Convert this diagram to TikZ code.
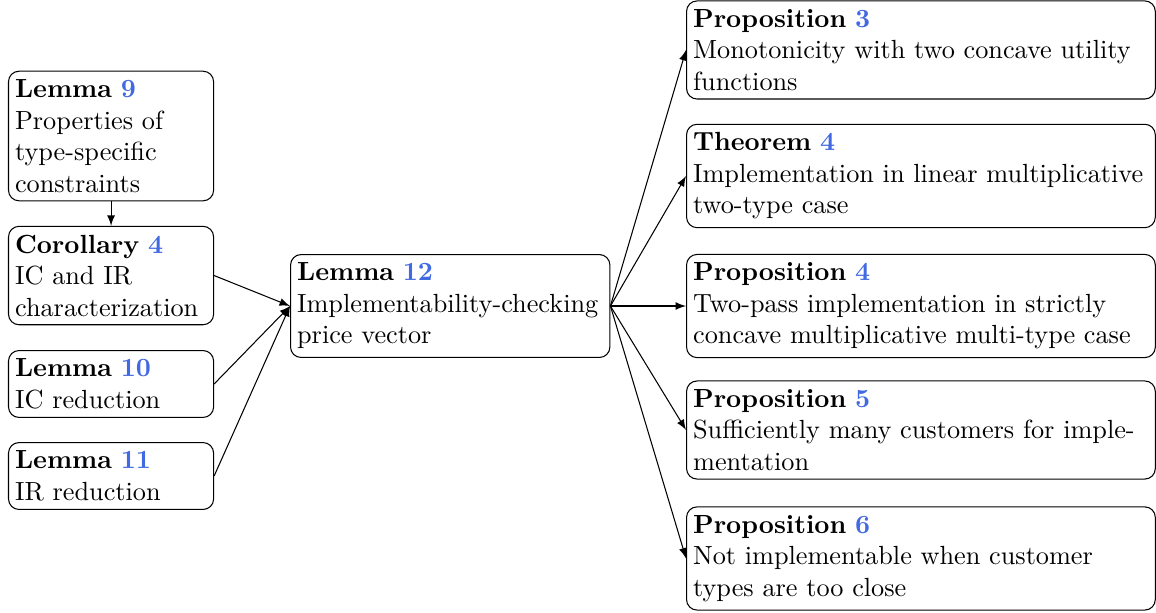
\documentclass[tikz,border=0pt]{standalone}
\usepackage{amsmath, amssymb}
\usepackage{tikz}
\usetikzlibrary{arrows}
\usetikzlibrary{positioning}
\definecolor{refblue}{RGB}{65,105,225}
\newcommand{\satzkopf}[2]{\textbf{#1 \textcolor{refblue}{#2}}\\}

\begin{document}
\begin{tikzpicture}[
  > = latex,
  box/.style = {draw,rounded corners=4pt,anchor=west,align=left,inner xsep=2.5pt,inner ysep=3.2pt},
  links/.style = {box,text width=2.57cm},
  mitte/.style = {box,text width=4.1cm},
  rechts/.style = {box,text width=6.1cm}
  ]
	\useasboundingbox (0,0) rectangle (15.477,-8.207);

	\coordinate (@l9) at (0.107,-1.821);
	\coordinate (@k4) at (0.107,-3.689);
	\coordinate (@l10) at (0.107,-5.141);
	\coordinate (@l11) at (0.107,-6.373);
	\coordinate (@l12) at (3.883,-4.097);
	\coordinate (@p3) at (9.185,-0.669);
	\coordinate (@t4) at (9.185,-2.356);
	\coordinate (@p4) at (9.185,-4.097);
	\coordinate (@p5) at (9.185,-5.757);
	\coordinate (@p6) at (9.185,-7.477);

	\node[links] (lem9) at (@l9) {\satzkopf{Lemma}{9}Properties of type-specific constraints};
	\node[links] (kor4) at (@k4) {\satzkopf{Corollary}{4}IC and IR \mbox{characterization}};
	\node[links] (lem10) at (@l10) {\satzkopf{Lemma}{10}IC reduction};
	\node[links] (lem11) at (@l11) {\satzkopf{Lemma}{11}IR reduction};

	\node[mitte] (lem12) at (@l12) {\satzkopf{Lemma}{12}Implementability-checking price vector};

	\node[rechts] (prop3) at (@p3) {\satzkopf{Proposition}{3}Monotonicity with two concave utility functions};
	\node[rechts] (thm4) at (@t4) {\satzkopf{Theorem}{4}Implementation in linear multiplicative two-type case};
	\node[rechts] (prop4) at (@p4) {\satzkopf{Proposition}{4}Two-pass implementation in strictly concave multiplicative multi-type case};
	\node[rechts] (prop5) at (@p5) {\satzkopf{Proposition}{5}Sufficiently many customers for implementation};
	\node[rechts] (prop6) at (@p6) {\satzkopf{Proposition}{6}Not implementable when customer types are too close};

	\draw[->] (lem9.south) -- (kor4.north);
	\foreach \von in {kor4,lem10,lem11}
		\draw[->] (\von.east) -- (lem12.west);
	\foreach \nach in {prop3,thm4,prop4,prop5,prop6}
		\draw[->] (lem12.east) -- (\nach.west);

\end{tikzpicture}
\end{document}
